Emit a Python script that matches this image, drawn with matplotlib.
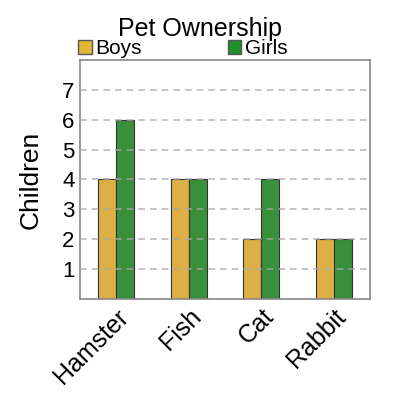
import matplotlib
matplotlib.use("Agg")
import matplotlib.pyplot as plt
import numpy as np
from matplotlib.patches import Patch

plt.rcParams['font.family'] = ['Liberation Sans', 'DejaVu Sans']

categories = ["Hamster", "Fish", "Cat", "Rabbit"]
boys = [4, 4, 2, 2]
girls = [6, 4, 4, 2]
yticks = [1, 2, 3, 4, 5, 6, 7]

boys_color = "#DDB045"
girls_color = "#3A8F3A"

fig = plt.figure(figsize=(4, 4), dpi=100)
ax = fig.add_axes([0.20, 0.2525, 0.725, 0.5975])

x = np.arange(len(categories))
w = 0.25
ax.bar(x - w/2, boys, width=w, color=boys_color, edgecolor="#333333", linewidth=0.8, zorder=2)
ax.bar(x + w/2, girls, width=w, color=girls_color, edgecolor="#333333", linewidth=0.8, zorder=2)

ax.set_xlim(-0.5, len(categories) - 0.5)
ax.set_ylim(0, 8)
ax.set_yticks(yticks)
ax.set_yticklabels([str(v) for v in yticks], fontsize=16)
ax.set_xticks(x)
ax.set_xticklabels(categories, fontsize=18, rotation=45, ha="right", rotation_mode="anchor")
ax.tick_params(axis="both", length=0, pad=4)
ax.yaxis.grid(True, linestyle=(0, (4, 3)), color="#aaaaaa", alpha=0.8, linewidth=1.2, zorder=3)
ax.set_axisbelow(False)
for s in ax.spines.values():
    s.set_color("#888888")
    s.set_linewidth(1.2)

ax.set_ylabel("Children", fontsize=19, labelpad=14)
fig.text(0.5, 0.928, "Pet Ownership", fontsize=18, ha="center", va="center")

handles = [Patch(facecolor="#E2B43A", edgecolor="#555555", label="Boys"),
           Patch(facecolor="#1F8F2A", edgecolor="#555555", label="Girls")]
fig.legend(handles=handles, loc="center left", bbox_to_anchor=(0.195, 0.878), ncol=2,
           frameon=False, fontsize=15, handlelength=0.65, handleheight=0.65,
           handletextpad=0.2, columnspacing=4.1, borderaxespad=0, borderpad=0)

fig.savefig("out.png", dpi=100)
